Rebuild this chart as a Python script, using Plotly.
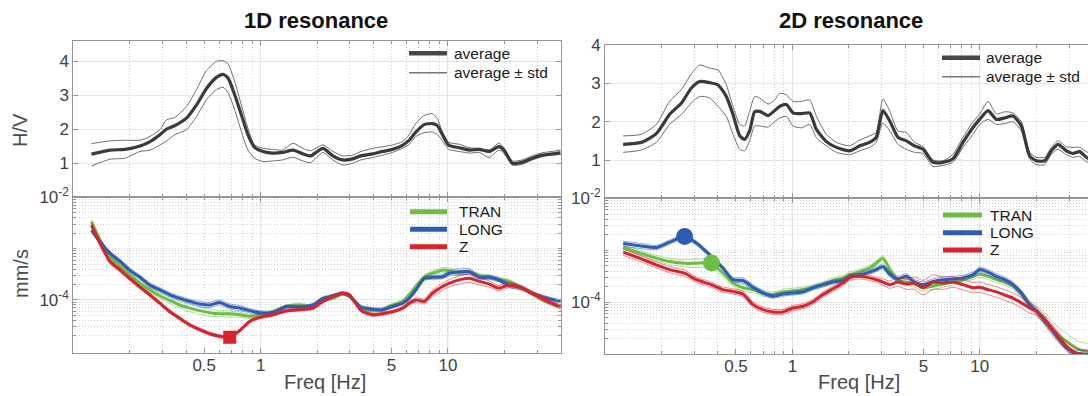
import numpy as np
import plotly.graph_objects as go

# ---------------------------------------------------------------------------
# H/V spectral ratio (average and average +/- std)
# ---------------------------------------------------------------------------
hv1_freq = [0.125, 0.157, 0.189, 0.227, 0.257, 0.290, 0.315, 0.348, 0.402, 0.455,
            0.514, 0.581, 0.630, 0.670, 0.727, 0.789, 0.856, 0.929, 1.03, 1.16,
            1.31, 1.49, 1.68, 1.85, 2.15, 2.43, 2.74, 3.10, 3.43, 3.96,
            4.48, 5.06, 5.72, 6.21, 6.74, 7.46, 8.26, 8.79, 9.35, 10.1,
            11.5, 13.0, 14.7, 16.6, 18.7, 19.9, 22.1, 24.9, 28.2, 31.9,
            36.0, 40.0]
hv1_avg = [1.27, 1.39, 1.41, 1.51, 1.64, 1.84, 2.01, 2.11, 2.33, 2.72,
           3.20, 3.53, 3.62, 3.51, 3.02, 2.43, 1.84, 1.47, 1.35, 1.30,
           1.32, 1.39, 1.28, 1.22, 1.44, 1.22, 1.10, 1.13, 1.22, 1.28,
           1.35, 1.41, 1.53, 1.68, 1.92, 2.14, 2.17, 2.11, 1.84, 1.53,
           1.46, 1.39, 1.41, 1.35, 1.49, 1.39, 1.00, 1.03, 1.15, 1.24,
           1.28, 1.31]
hv1_hi = [1.58, 1.66, 1.68, 1.68, 1.79, 1.99, 2.28, 2.35, 2.67, 3.17,
          3.73, 4.00, 4.02, 3.92, 3.41, 2.72, 2.03, 1.54, 1.44, 1.41,
          1.39, 1.59, 1.44, 1.37, 1.54, 1.35, 1.22, 1.24, 1.35, 1.44,
          1.49, 1.54, 1.64, 1.84, 2.17, 2.41, 2.46, 2.31, 1.92, 1.62,
          1.56, 1.46, 1.44, 1.39, 1.59, 1.46, 1.07, 1.10, 1.22, 1.31,
          1.35, 1.39]
hv1_lo = [0.92, 1.12, 1.15, 1.35, 1.39, 1.54, 1.66, 1.84, 1.99, 2.38,
          2.87, 3.17, 3.24, 3.08, 2.58, 1.94, 1.39, 1.15, 1.05, 1.07,
          1.10, 1.18, 1.07, 1.02, 1.32, 1.10, 0.95, 1.00, 1.10, 1.17,
          1.24, 1.32, 1.44, 1.56, 1.79, 1.90, 1.92, 1.84, 1.66, 1.41,
          1.35, 1.30, 1.32, 1.17, 1.39, 1.30, 0.95, 0.97, 1.10, 1.20,
          1.24, 1.26]

hv2_freq = [0.125, 0.156, 0.188, 0.221, 0.256, 0.289, 0.320, 0.362, 0.401, 0.444,
            0.482, 0.524, 0.556, 0.591, 0.629, 0.670, 0.741, 0.805, 0.855, 0.929,
            1.007, 1.117, 1.236, 1.343, 1.518, 1.717, 2.02, 2.29, 2.58, 2.80,
            3.04, 3.31, 3.66, 4.05, 4.49, 4.98, 5.63, 6.36, 7.19, 8.13,
            9.20, 9.98, 11.06, 12.26, 13.58, 15.04, 16.67, 18.45, 20.04, 22.19,
            24.10, 26.13, 28.96, 31.42, 34.12, 37.6, 40.0]
hv2_avg = [1.41, 1.46, 1.69, 2.19, 2.49, 2.88, 3.05, 3.02, 2.96, 2.66,
           2.19, 1.63, 1.54, 1.76, 2.26, 2.27, 2.16, 2.29, 2.40, 2.45,
           2.23, 2.21, 2.23, 1.80, 1.48, 1.33, 1.24, 1.37, 1.46, 1.59,
           2.29, 2.02, 1.59, 1.50, 1.37, 1.28, 0.94, 0.94, 1.03, 1.46,
           1.85, 2.06, 2.29, 2.06, 2.10, 2.15, 1.89, 1.11, 0.98, 0.98,
           1.24, 1.41, 1.24, 1.17, 1.22, 1.05, 1.10]
hv2_hi = [1.63, 1.67, 1.93, 2.53, 2.84, 3.25, 3.48, 3.40, 3.35, 2.96,
          2.40, 1.93, 1.89, 2.27, 2.66, 2.62, 2.46, 2.57, 2.74, 2.70,
          2.53, 2.53, 2.57, 2.14, 1.67, 1.46, 1.37, 1.52, 1.63, 1.72,
          2.59, 2.27, 1.76, 1.72, 1.46, 1.35, 1.00, 0.98, 1.15, 1.59,
          2.00, 2.19, 2.53, 2.20, 2.26, 2.23, 2.00, 1.20, 1.07, 1.07,
          1.33, 1.50, 1.35, 1.33, 1.33, 1.20, 1.25]
hv2_lo = [1.20, 1.26, 1.46, 1.93, 2.19, 2.49, 2.66, 2.62, 2.40, 2.14,
          1.67, 1.28, 1.24, 1.50, 1.89, 1.89, 1.86, 2.00, 2.10, 2.14,
          1.89, 1.84, 1.93, 1.58, 1.37, 1.20, 1.14, 1.24, 1.33, 1.46,
          1.97, 1.76, 1.41, 1.28, 1.20, 1.17, 0.83, 0.86, 0.94, 1.33,
          1.67, 1.93, 2.06, 1.93, 1.95, 2.00, 1.76, 1.03, 0.88, 0.88,
          1.15, 1.28, 1.14, 1.07, 1.09, 0.94, 0.98]

# ---------------------------------------------------------------------------
# Component amplitude spectra: mean as log10(mm/s), std in decades
# ---------------------------------------------------------------------------
sp1_freq = [0.125, 0.139, 0.157, 0.178, 0.200, 0.227, 0.256, 0.290, 0.328, 0.370,
            0.419, 0.473, 0.535, 0.605, 0.684, 0.773, 0.874, 0.988, 1.16, 1.37,
            1.61, 1.90, 2.15, 2.43, 2.74, 2.98, 3.44, 3.96, 4.48, 5.07,
            5.73, 6.21, 6.75, 7.47, 8.27, 9.35, 10.2, 11.5, 13.0, 14.7,
            16.6, 18.7, 21.2, 24.9, 28.2, 31.9, 36.0, 40.0]
tran1_log = [-2.475, -2.83, -3.16, -3.34, -3.51, -3.675, -3.805, -3.92, -4.01, -4.10,
             -4.16, -4.21, -4.25, -4.27, -4.27, -4.29, -4.32, -4.29, -4.23, -4.13,
             -4.10, -4.13, -4.00, -3.97, -3.88, -3.935, -4.16, -4.21, -4.18, -4.10,
             -4.03, -3.90, -3.74, -3.56, -3.48, -3.42, -3.43, -3.48, -3.45, -3.53,
             -3.55, -3.60, -3.64, -3.77, -3.88, -4.00, -4.08, -4.13]
long1_log = [-2.64, -2.87, -3.09, -3.25, -3.42, -3.56, -3.71, -3.805, -3.90, -3.97,
             -4.03, -4.08, -4.10, -4.05, -4.13, -4.16, -4.21, -4.25, -4.25, -4.13,
             -4.14, -4.10, -3.97, -3.92, -3.87, -3.92, -4.14, -4.18, -4.195, -4.13,
             -4.065, -3.97, -3.805, -3.58, -3.56, -3.55, -3.48, -3.45, -3.45, -3.56,
             -3.56, -3.61, -3.71, -3.77, -3.87, -3.935, -3.99, -4.03]
z1_log = [-2.54, -2.90, -3.25, -3.42, -3.58, -3.75, -3.90, -4.065, -4.23, -4.36,
          -4.49, -4.58, -4.66, -4.71, -4.727, -4.60, -4.42, -4.34, -4.29, -4.21,
          -4.19, -4.16, -4.03, -3.935, -3.87, -3.90, -4.21, -4.29, -4.27, -4.23,
          -4.16, -4.065, -4.00, -4.03, -3.87, -3.74, -3.675, -3.61, -3.58, -3.64,
          -3.69, -3.77, -3.71, -3.77, -3.87, -3.97, -4.065, -4.14]
tran1_std = [0.05, 0.04, 0.04, 0.04, 0.04, 0.04, 0.05, 0.05, 0.06, 0.06,
             0.07, 0.07, 0.07, 0.06, 0.06, 0.05, 0.04, 0.03, 0.03, 0.03,
             0.04, 0.03, 0.03, 0.03, 0.03, 0.03, 0.03, 0.03, 0.03, 0.03,
             0.04, 0.04, 0.05, 0.05, 0.05, 0.05, 0.05, 0.05, 0.04, 0.04,
             0.04, 0.04, 0.04, 0.03, 0.03, 0.03, 0.03, 0.03]
long1_std = [0.05, 0.04, 0.04, 0.04, 0.04, 0.04, 0.04, 0.04, 0.04, 0.04,
             0.04, 0.05, 0.05, 0.05, 0.05, 0.05, 0.04, 0.04, 0.03, 0.03,
             0.03, 0.03, 0.03, 0.03, 0.03, 0.03, 0.03, 0.03, 0.03, 0.03,
             0.03, 0.03, 0.04, 0.04, 0.04, 0.04, 0.05, 0.06, 0.06, 0.04,
             0.04, 0.04, 0.05, 0.04, 0.03, 0.03, 0.03, 0.03]
z1_std = [0.04, 0.04, 0.04, 0.04, 0.04, 0.03, 0.03, 0.03, 0.03, 0.03,
          0.03, 0.03, 0.03, 0.03, 0.03, 0.03, 0.03, 0.03, 0.03, 0.03,
          0.03, 0.03, 0.03, 0.03, 0.03, 0.03, 0.03, 0.03, 0.03, 0.03,
          0.03, 0.04, 0.04, 0.05, 0.06, 0.07, 0.07, 0.08, 0.08, 0.07,
          0.06, 0.05, 0.05, 0.04, 0.04, 0.04, 0.04, 0.04]

sp2_freq = [0.125, 0.153, 0.188, 0.221, 0.266, 0.307, 0.370, 0.426, 0.482, 0.545,
            0.616, 0.697, 0.788, 0.891, 1.008, 1.14, 1.288, 1.456, 1.647, 1.862,
            2.02, 2.29, 2.58, 2.80, 3.04, 3.31, 3.66, 4.05, 4.49, 4.98,
            5.63, 6.36, 7.19, 8.13, 9.20, 9.98, 11.06, 12.26, 13.58, 15.04,
            16.67, 18.45, 20.04, 22.19, 24.10, 26.13, 28.96, 31.42, 34.12, 37.6,
            40.0]
tran2_log = [-2.94, -3.05, -3.15, -3.215, -3.25, -3.25, -3.245, -3.44, -3.63, -3.72,
             -3.755, -3.82, -3.85, -3.80, -3.78, -3.755, -3.71, -3.66, -3.58, -3.53,
             -3.47, -3.41, -3.34, -3.25, -3.15, -3.37, -3.58, -3.61, -3.65, -3.72,
             -3.69, -3.65, -3.61, -3.565, -3.50, -3.46, -3.50, -3.565, -3.61, -3.69,
             -3.85, -4.045, -4.16, -4.31, -4.49, -4.62, -4.75, -4.84, -4.91, -4.94,
             -4.97]
long2_log = [-2.87, -2.914, -2.946, -2.843, -2.735, -2.86, -3.12, -3.34, -3.565, -3.58,
             -3.71, -3.82, -3.885, -3.84, -3.82, -3.80, -3.72, -3.66, -3.61, -3.58,
             -3.50, -3.47, -3.42, -3.37, -3.31, -3.46, -3.55, -3.50, -3.61, -3.66,
             -3.60, -3.565, -3.55, -3.53, -3.47, -3.37, -3.42, -3.50, -3.565, -3.66,
             -3.82, -4.045, -4.17, -4.36, -4.52, -4.68, -4.87, -4.97, -4.99, -5.00,
             -5.05]
z2_log = [-3.035, -3.15, -3.28, -3.37, -3.44, -3.565, -3.66, -3.755, -3.79, -3.84,
          -4.045, -4.14, -4.185, -4.185, -4.11, -4.075, -3.99, -3.85, -3.74, -3.63,
          -3.53, -3.50, -3.53, -3.565, -3.61, -3.66, -3.61, -3.65, -3.63, -3.72,
          -3.61, -3.63, -3.61, -3.66, -3.72, -3.71, -3.755, -3.80, -3.86, -3.92,
          -4.01, -4.11, -4.17, -4.33, -4.49, -4.65, -4.84, -4.94, -4.99, -5.01,
          -5.06]
tran2_std = [0.05, 0.05, 0.05, 0.06, 0.07, 0.08, 0.08, 0.07, 0.06, 0.06,
             0.06, 0.06, 0.05, 0.05, 0.05, 0.05, 0.05, 0.05, 0.05, 0.05,
             0.05, 0.05, 0.05, 0.05, 0.05, 0.05, 0.06, 0.06, 0.06, 0.06,
             0.06, 0.06, 0.06, 0.06, 0.06, 0.06, 0.06, 0.06, 0.06, 0.06,
             0.07, 0.08, 0.10, 0.12, 0.14, 0.15, 0.15, 0.15, 0.15, 0.15,
             0.15]
long2_std = [0.05, 0.05, 0.04, 0.04, 0.04, 0.04, 0.04, 0.04, 0.04, 0.05,
             0.05, 0.04, 0.04, 0.04, 0.04, 0.04, 0.04, 0.04, 0.04, 0.04,
             0.04, 0.04, 0.04, 0.04, 0.05, 0.05, 0.05, 0.05, 0.05, 0.05,
             0.05, 0.05, 0.05, 0.05, 0.05, 0.05, 0.05, 0.05, 0.05, 0.05,
             0.05, 0.06, 0.06, 0.07, 0.07, 0.07, 0.06, 0.06, 0.06, 0.06,
             0.06]
z2_std = [0.06, 0.06, 0.06, 0.06, 0.06, 0.05, 0.05, 0.05, 0.05, 0.05,
          0.05, 0.05, 0.05, 0.05, 0.05, 0.05, 0.05, 0.05, 0.05, 0.05,
          0.05, 0.05, 0.05, 0.05, 0.06, 0.07, 0.08, 0.10, 0.12, 0.14,
          0.14, 0.12, 0.10, 0.10, 0.10, 0.10, 0.10, 0.10, 0.10, 0.10,
          0.10, 0.10, 0.08, 0.08, 0.08, 0.08, 0.08, 0.08, 0.08, 0.08,
          0.08]

components = ["TRAN", "LONG", "Z"]
freq_ticks = [0.5, 1, 5, 10]
freq_ticktext = ["0.5", "1", "5", "10"]
hv_ticks = [1, 2, 3, 4]
amp_ticks = [1e-4, 1e-2]
amp_ticktext = ["10<sup>-4</sup>", "10<sup>-2</sup>"]
panel_titles = ["1D resonance", "2D resonance"]
hv_legend = ["average", "average \u00b1 std"]

# ---------------------------------------------------------------------------
# styling / geometry
# ---------------------------------------------------------------------------
W, H = 1088, 396
FONT = "Liberation Sans, Arial, Helvetica, sans-serif"
AXIS_COL = "#959595"
TICK_TXT = "#404040"
LABEL_TXT = "#4a4a4a"
GRID_MAJOR = "#e4e4e4"
GRID_MINOR = "#d2d2d2"
DOT = "1px,2px"
SMOOTH = 0.6
COLORS = {"TRAN": "#6bbd45", "LONG": "#2f5cb3", "Z": "#d8232e"}
STD_COLORS = {"TRAN": "rgba(107,189,69,0.55)", "LONG": "rgba(47,92,179,0.55)",
              "Z": "rgba(216,35,46,0.55)"}


def fx(px):
    return px / W


def fy(py):
    return 1 - py / H


minor_freq = [0.2, 0.3, 0.4, 0.5, 0.6, 0.7, 0.8, 0.9,
              2, 3, 4, 5, 6, 7, 8, 9, 20, 30]
minor_amp = ([k * 1e-5 for k in range(2, 10)] + [k * 1e-4 for k in range(2, 10)]
             + [k * 1e-3 for k in range(1, 10)])

dom_x_left = [fx(73.3), fx(560.7)]
dom_x_right = [fx(605.0), 1.0]
dom_y = {
    "1D_top": [fy(197.3), fy(41.0)],
    "1D_bot": [fy(352.7), fy(197.3)],
    "2D_top": [fy(198.3), fy(45.0)],
    "2D_bot": [fy(354.3), fy(198.3)],
}
x_range_left = [-1.0, np.log10(40.0)]
x_range_right = [-1.0, 1.5774]

fig = go.Figure()


def hv_traces(xa, ya, f, avg, hi, lo):
    for band in (hi, lo):
        fig.add_trace(go.Scatter(x=f, y=band, mode="lines",
                                 line=dict(color="#6c6c6c", width=1,
                                           shape="spline", smoothing=SMOOTH),
                                 xaxis=xa, yaxis=ya, showlegend=False,
                                 hoverinfo="skip"))
    fig.add_trace(go.Scatter(x=f, y=avg, mode="lines",
                             line=dict(color="#3a3a3a", width=3.2,
                                       shape="spline", smoothing=SMOOTH),
                             xaxis=xa, yaxis=ya, showlegend=False))


def spec_traces(xa, ya, f, logs, stds):
    for name in components:
        m = np.array(logs[name])
        s = np.array(stds[name])
        for sign in (1, -1):
            fig.add_trace(go.Scatter(x=f, y=10 ** (m + sign * s), mode="lines",
                                     line=dict(color=STD_COLORS[name], width=1,
                                               shape="spline", smoothing=SMOOTH),
                                     xaxis=xa, yaxis=ya, showlegend=False,
                                     hoverinfo="skip"))
        fig.add_trace(go.Scatter(x=f, y=10 ** m, mode="lines", name=name,
                                 line=dict(color=COLORS[name], width=3,
                                           shape="spline", smoothing=SMOOTH),
                                 xaxis=xa, yaxis=ya, showlegend=False))


hv_traces("x", "y", hv1_freq, hv1_avg, hv1_hi, hv1_lo)
spec_traces("x2", "y2", sp1_freq,
            {"TRAN": tran1_log, "LONG": long1_log, "Z": z1_log},
            {"TRAN": tran1_std, "LONG": long1_std, "Z": z1_std})
hv_traces("x3", "y3", hv2_freq, hv2_avg, hv2_hi, hv2_lo)
spec_traces("x4", "y4", sp2_freq,
            {"TRAN": tran2_log, "LONG": long2_log, "Z": z2_log},
            {"TRAN": tran2_std, "LONG": long2_std, "Z": z2_std})

# picked resonance points
i_z = int(np.argmin(z1_log))
fig.add_trace(go.Scatter(x=[sp1_freq[i_z]], y=[10 ** z1_log[i_z]], mode="markers",
                         marker=dict(symbol="square", size=13, color=COLORS["Z"]),
                         xaxis="x2", yaxis="y2", showlegend=False))
i_l = int(np.argmax(long2_log))
fig.add_trace(go.Scatter(x=[sp2_freq[i_l]], y=[10 ** long2_log[i_l]], mode="markers",
                         marker=dict(symbol="circle", size=17, color=COLORS["LONG"]),
                         xaxis="x4", yaxis="y4", showlegend=False))
i_t = sp2_freq.index(0.370)
fig.add_trace(go.Scatter(x=[sp2_freq[i_t]], y=[10 ** tran2_log[i_t]], mode="markers",
                         marker=dict(symbol="circle", size=17, color=COLORS["TRAN"]),
                         xaxis="x4", yaxis="y4", showlegend=False))

# empty traces so the label-only overlay axes get drawn
for xa, ya in (("x5", "y2"), ("x6", "y4")):
    fig.add_trace(go.Scatter(x=[], y=[], xaxis=xa, yaxis=ya, showlegend=False))

tickfont = dict(family=FONT, size=17, color=TICK_TXT)
common = dict(showline=True, linecolor=AXIS_COL, linewidth=1, ticks="inside",
              ticklen=5, tickcolor=AXIS_COL, zeroline=False, automargin=False,
              tickfont=tickfont)


def freq_axis(domain, rng, anchor):
    return dict(common, type="log", domain=domain, range=rng, anchor=anchor,
                mirror="ticks", tickmode="array", tickvals=[1, 10],
                showticklabels=False, showgrid=True, gridcolor=GRID_MAJOR,
                gridwidth=1,
                minor=dict(tickmode="array", tickvals=minor_freq, ticks="inside",
                           ticklen=3, tickcolor=AXIS_COL, showgrid=True,
                           gridcolor=GRID_MINOR, griddash=DOT, gridwidth=1))


def freq_label_axis(domain, rng, anchor, over):
    return dict(type="log", domain=domain, range=rng, anchor=anchor,
                overlaying=over, side="bottom", showline=False, showgrid=False,
                zeroline=False, automargin=False, ticks="inside", ticklen=5,
                tickcolor=AXIS_COL, tickmode="array", tickvals=freq_ticks,
                ticktext=freq_ticktext, tickfont=tickfont)


def hv_axis(domain, top, anchor, mirror):
    return dict(common, domain=domain, range=[0, top], anchor=anchor,
                mirror=mirror, tickmode="array", tickvals=hv_ticks,
                showgrid=True, gridcolor=GRID_MAJOR, gridwidth=1)


def amp_axis(domain, rng, anchor, mirror):
    return dict(common, type="log", domain=domain, range=rng, anchor=anchor,
                mirror=mirror, tickmode="array", tickvals=amp_ticks,
                ticktext=amp_ticktext, showgrid=True, gridcolor=GRID_MAJOR,
                gridwidth=1,
                minor=dict(tickmode="array", tickvals=minor_amp, ticks="inside",
                           ticklen=3, tickcolor=AXIS_COL, showgrid=True,
                           gridcolor=GRID_MINOR, griddash=DOT, gridwidth=1))


fig.update_layout(
    width=W, height=H, margin=dict(l=0, r=0, t=0, b=0),
    paper_bgcolor="white", plot_bgcolor="white", template="none",
    showlegend=False, font=dict(family=FONT),
    xaxis=freq_axis(dom_x_left, x_range_left, "y"),
    yaxis=hv_axis(dom_y["1D_top"], 4.6, "x", "ticks"),
    xaxis2=freq_axis(dom_x_left, x_range_left, "y2"),
    yaxis2=amp_axis(dom_y["1D_bot"], [-5.03, -1.999], "x2", "ticks"),
    xaxis3=freq_axis(dom_x_right, x_range_right, "y3"),
    yaxis3=hv_axis(dom_y["2D_top"], 4.003, "x3", False),
    xaxis4=freq_axis(dom_x_right, x_range_right, "y4"),
    yaxis4=amp_axis(dom_y["2D_bot"], [-5.0, -1.999], "x4", False),
    xaxis5=freq_label_axis(dom_x_left, x_range_left, "y2", "x2"),
    xaxis6=freq_label_axis(dom_x_right, x_range_right, "y4", "x4"),
)

# ---------------------------------------------------------------------------
# titles, axis labels
# ---------------------------------------------------------------------------
ann = []
for title, cx in zip(panel_titles, (316, 851)):
    ann.append(dict(text="<b>%s</b>" % title, x=fx(cx), y=fy(21), xref="paper",
                    yref="paper", showarrow=False, xanchor="center",
                    yanchor="middle", font=dict(family=FONT, size=22, color="#111")))
for cx in (325, 859):
    ann.append(dict(text="Freq [Hz]", x=fx(cx), y=fy(382), xref="paper",
                    yref="paper", showarrow=False, xanchor="center",
                    yanchor="middle", font=dict(family=FONT, size=20, color=LABEL_TXT)))
ann.append(dict(text="H/V", x=fx(20), y=fy(130), xref="paper", yref="paper",
                showarrow=False, textangle=-90, xanchor="center", yanchor="middle",
                font=dict(family=FONT, size=20, color=LABEL_TXT)))
ann.append(dict(text="mm/s", x=fx(21), y=fy(274), xref="paper", yref="paper",
                showarrow=False, textangle=-90, xanchor="center", yanchor="middle",
                font=dict(family=FONT, size=20, color=LABEL_TXT)))

# ---------------------------------------------------------------------------
# in-axes legends
# ---------------------------------------------------------------------------
shapes = []
legend_specs = [
    # (line x0, line x1, text x, row y's, entries)
    (409, 447, 452, (53.3, 72.7),
     [(hv_legend[0], "#474747", 4.5), (hv_legend[1], "#777777", 1.5)]),
    (942, 980, 984, (57.7, 76.7),
     [(hv_legend[0], "#474747", 4.5), (hv_legend[1], "#777777", 1.5)]),
    (410, 447, 456.5, (211.7, 229.3, 246.7),
     [(c, COLORS[c], 5) for c in components]),
    (943, 982, 988, (215.0, 232.7, 250.0),
     [(c, COLORS[c], 5) for c in components]),
]
for x0, x1, tx, rows, entries in legend_specs:
    for (label, col, lw), ry in zip(entries, rows):
        shapes.append(dict(type="line", xref="paper", yref="paper",
                           x0=fx(x0), x1=fx(x1), y0=fy(ry), y1=fy(ry),
                           line=dict(color=col, width=lw), layer="above"))
        ann.append(dict(text=label, x=fx(tx), y=fy(ry), xref="paper", yref="paper",
                        showarrow=False, xanchor="left", yanchor="middle",
                        font=dict(family=FONT, size=15.5, color="#1a1a1a")))

# solid decade gridlines in the spectra panels
for xa, ya in (("x2", "y2"), ("x4", "y4")):
    for dec in (1, 10):
        shapes.append(dict(type="line", xref=xa, yref="%s domain" % ya,
                           x0=dec, x1=dec, y0=0, y1=1,
                           line=dict(color=GRID_MAJOR, width=1), layer="below"))

fig.update_layout(annotations=ann, shapes=shapes)
fig.write_html("out.html")
